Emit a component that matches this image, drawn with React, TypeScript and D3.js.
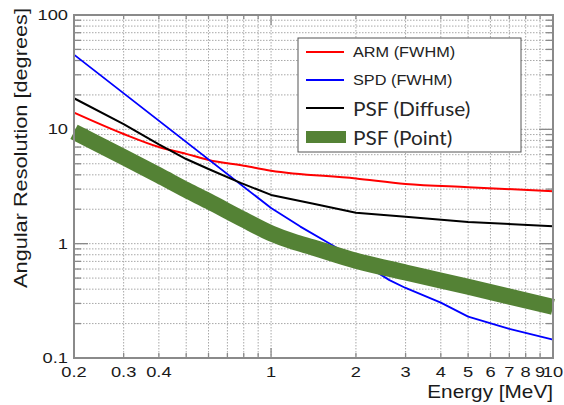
import React from 'react';
import * as d3 from 'd3';

// ---- data ----
const armEnergy = [0.2, 0.3, 0.4, 0.5, 0.6, 0.8, 1, 2, 3, 5, 10];
const armValues = [14.0, 9.1, 7.0, 6.1, 5.4, 4.8, 4.35, 3.72, 3.33, 3.12, 2.88];

const spdEnergy = [0.2, 1, 1.27, 1.64, 2, 2.63, 3, 4, 5, 7, 10];
const spdValues = [45, 2.05, 1.41, 0.98, 0.73, 0.48, 0.41, 0.305, 0.23, 0.18, 0.145];

const diffuseEnergy = [0.2, 0.3, 0.4, 0.5, 0.6, 0.78, 1, 1.4, 2, 3, 5, 10];
const diffuseValues = [18.7, 11.1, 7.4, 5.5, 4.5, 3.4, 2.67, 2.25, 1.86, 1.72, 1.55, 1.42];

const pointEnergy = [0.2, 0.3, 0.4, 0.5, 0.6, 0.8, 1, 1.2, 1.4, 2, 3, 5, 10];
const pointValues = [9.5, 5.7, 3.95, 2.95, 2.35, 1.62, 1.23, 1.04, 0.93, 0.71, 0.56, 0.42, 0.28];

const xTickValues = [0.2, 0.3, 0.4, 1, 2, 3, 4, 5, 6, 7, 8, 9, 10];
const xTickLabels = ['0.2', '0.3', '0.4', '1', '2', '3', '4', '5', '6', '7', '8', '9', '10'];
const yTickValues = [0.1, 1, 10, 100];
const yTickLabels = ['0.1', '1', '10', '100'];

const legendLabels = ['ARM (FWHM)', 'SPD (FWHM)', 'PSF (Diffuse)', 'PSF (Point)'];
const xTitle = 'Energy [MeV]';
const yTitle = 'Angular Resolution [degrees]';

// ---- layout ----
const W = 564;
const H = 405;
const L = 74, R = 553, T = 15, B = 358;
const SX = 1.18; // horizontal text stretch seen in the reference

const axisColor = '#8a8a8a';
const gridColor = '#a8a8a8';
const textColor = '#1a1a1a';
const sans = '"Liberation Sans", Arial, sans-serif';
const calibriLike = 'Lato, "Open Sans", sans-serif';

export default function App() {
  const x = d3.scaleLog().domain([0.2, 10]).range([L, R]);
  const y = d3.scaleLog().domain([0.1, 100]).range([B, T]);

  const xGrid = x.ticks();
  const yGrid = y.ticks();
  const isMajor = (v: number) => Math.abs(Math.log10(v) - Math.round(Math.log10(v))) < 1e-6;

  const mk = (es: number[], vs: number[], curve: d3.CurveFactory) =>
    d3
      .line<number>()
      .x((_, i) => x(es[i]))
      .y((v) => y(v))
      .curve(curve)(vs) as string;

  const series = [
    { d: mk(armEnergy, armValues, d3.curveMonotoneX), color: '#ff0000', w: 2 },
    { d: mk(spdEnergy, spdValues, d3.curveLinear), color: '#0000ff', w: 1.8 },
    { d: mk(diffuseEnergy, diffuseValues, d3.curveLinear), color: '#000000', w: 2 },
    { d: mk(pointEnergy, pointValues, d3.curveMonotoneX), color: '#548235', w: 16 },
  ];

  const legendX = 298, legendY = 38, legendW = 223, legendH = 114;
  const legendRows = [52, 80, 108, 137];

  return (
    <svg
      width={W}
      height={H}
      style={{ position: 'absolute', left: 0, top: 0, background: '#fff' }}
      fontFamily={sans}
    >
      <rect x={0} y={0} width={W} height={H} fill="#fff" />
      {/* grid */}
      <g stroke={gridColor} strokeWidth={1} strokeDasharray="1.5 1.5">
        {xGrid.map((v, i) => (
          <line key={'gx' + i} x1={x(v)} x2={x(v)} y1={T} y2={B} />
        ))}
        {yGrid.map((v, i) => (
          <line key={'gy' + i} x1={L} x2={R} y1={y(v)} y2={y(v)} />
        ))}
      </g>
      {/* ticks */}
      <g stroke={axisColor} strokeWidth={1.3}>
        {yGrid.map((v, i) => {
          const len = isMajor(v) ? 14 : 7;
          return (
            <g key={'ty' + i}>
              <line x1={L} x2={L + len} y1={y(v)} y2={y(v)} />
              <line x1={R} x2={R - len} y1={y(v)} y2={y(v)} />
            </g>
          );
        })}
        {xGrid.map((v, i) => {
          const len = isMajor(v) ? 10 : 5;
          return (
            <g key={'tx' + i}>
              <line x1={x(v)} x2={x(v)} y1={B} y2={B - len} />
              <line x1={x(v)} x2={x(v)} y1={T} y2={T + (isMajor(v) ? 10 : 4)} />
            </g>
          );
        })}
      </g>
      {/* series */}
      {series.map((s, i) => (
        <path key={'s' + i} d={s.d} fill="none" stroke={s.color} strokeWidth={s.w} strokeLinecap="butt" strokeLinejoin="round" />
      ))}
      {/* frame */}
      <rect x={L} y={T} width={R - L} height={B - T} fill="none" stroke={axisColor} strokeWidth={2} />
      {/* tick labels */}
      <g fill={textColor} fontSize={15.5}>
        {xTickValues.map((v, i) => (
          <text key={'xl' + i} transform={`translate(${x(v)},377) scale(${SX},1)`} textAnchor="middle">
            {xTickLabels[i]}
          </text>
        ))}
        {yTickValues.map((v, i) => (
          <text key={'yl' + i} transform={`translate(68,${y(v)}) scale(${SX},1)`} textAnchor="end" dominantBaseline="central">
            {yTickLabels[i]}
          </text>
        ))}
      </g>
      {/* axis titles */}
      <text transform={`translate(553,398) scale(${SX},1)`} textAnchor="end" fontSize={17.6} fill={textColor}>
        {xTitle}
      </text>
      <text transform={`translate(26.5,148) rotate(-90) scale(${SX},1)`} textAnchor="middle" fontSize={18.4} fill={textColor}>
        {yTitle}
      </text>
      {/* legend */}
      <rect x={legendX} y={legendY} width={legendW} height={legendH} fill="#fff" stroke="#555" strokeWidth={1} />
      {legendRows.map((ry, i) =>
        i < 3 ? (
          <line key={'ll' + i} x1={306} x2={344} y1={ry} y2={ry} stroke={series[i].color} strokeWidth={2} />
        ) : (
          <rect key={'ll' + i} x={306} y={ry - 6} width={40} height={12} fill={series[i].color} />
        )
      )}
      {legendRows.map((ry, i) => (
        <text
          key={'lt' + i}
          transform={`translate(353,${ry}) scale(${i < 2 ? SX : 1.07},1)`}
          dominantBaseline="central"
          fontSize={i < 2 ? 13.8 : 19.5}
          fontFamily={i < 2 ? sans : calibriLike}
          fill={i < 2 ? '#222' : '#262626'}
        >
          {legendLabels[i]}
        </text>
      ))}
    </svg>
  );
}
